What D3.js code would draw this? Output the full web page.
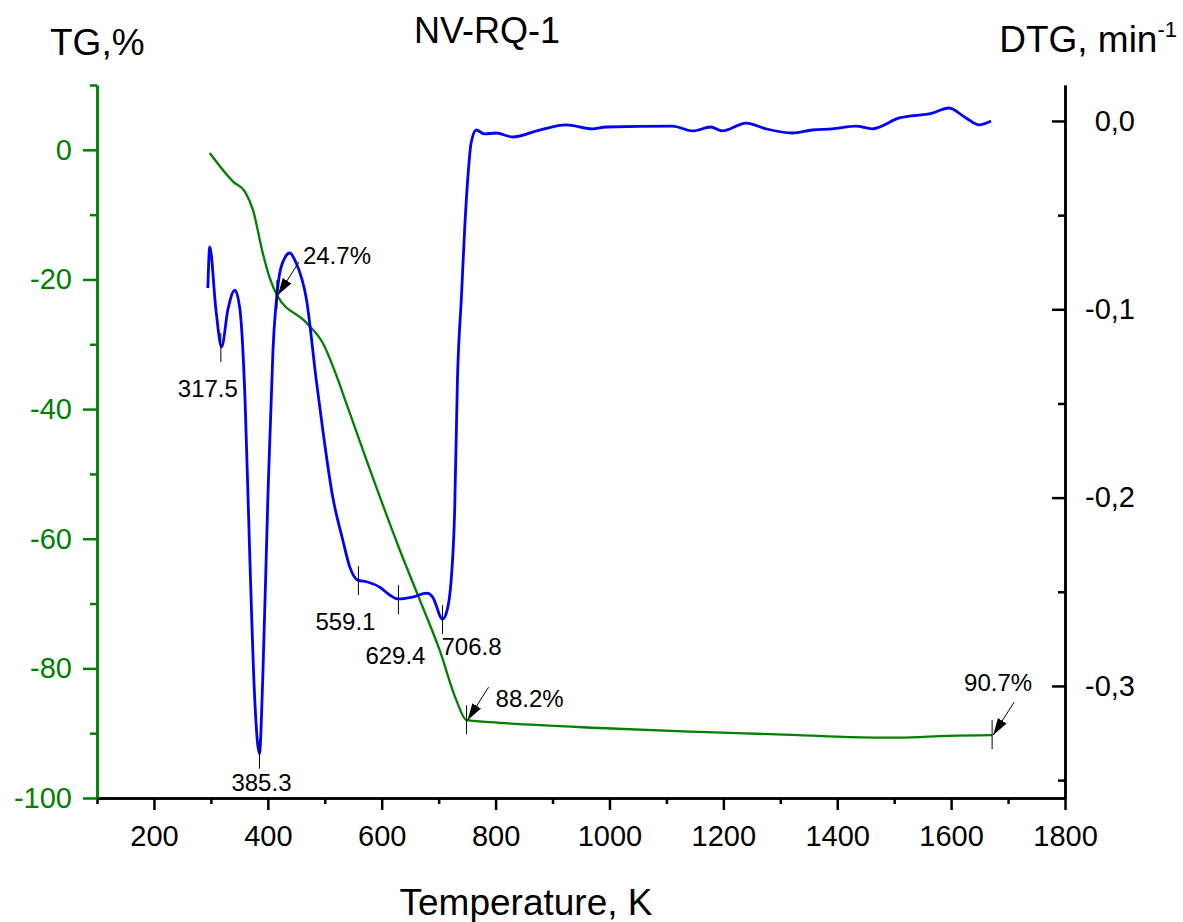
<!DOCTYPE html>
<html>
<head>
<meta charset="utf-8">
<script src="https://cdn.jsdelivr.net/npm/d3@7"></script>
<style>
  body { margin: 0; background: #fff; }
  text { font-family: "Liberation Sans", Arial, sans-serif; }
</style>
</head>
<body>
<div id="chart"></div>
<script>
// TG curve (mass, %)
const tgTemp = [298, 339, 360, 374, 391, 403.5, 416, 468, 496.5, 523.3, 535.8, 573, 631.6, 666.7, 701.8, 731, 749, 807, 982, 1158, 1333, 1421, 1509, 1596, 1672];
const tgValue = [-0.5, -4.9, -6.5, -9.3, -15.9, -19.8, -22.4, -26.7, -29.8, -35.5, -38.6, -47.8, -61.7, -69.4, -77.2, -84.9, -88.0, -88.4, -89.2, -89.8, -90.3, -90.6, -90.7, -90.4, -90.3];

// DTG curve (min^-1)
const dtgTemp = [294.7, 298, 308.8, 318.8, 330, 342, 351, 360, 368, 377, 385.3, 391, 400, 409, 419, 428, 438.6, 449, 468, 485, 496.5, 514, 531.6, 544, 558, 575, 596.5, 614, 628, 654, 679, 689.5, 706.8, 713.5, 722, 728, 733, 740, 745.6, 751, 757, 766, 780.7, 801, 830, 877, 924, 970, 994, 1110.5, 1146, 1178, 1198, 1240, 1275, 1321, 1356, 1391, 1433, 1461, 1509, 1567, 1596, 1626, 1649, 1670];
const dtgValue = [-0.0887, -0.0669, -0.100, -0.120, -0.100, -0.0898, -0.100, -0.148, -0.228, -0.307, -0.336, -0.297, -0.201, -0.122, -0.0844, -0.0738, -0.0701, -0.0749, -0.095, -0.1375, -0.164, -0.1997, -0.2225, -0.2369, -0.2438, -0.2448, -0.2475, -0.2517, -0.2538, -0.2528, -0.2507, -0.2528, -0.2645, -0.2613, -0.2438, -0.2082, -0.1375, -0.0935, -0.0579, -0.0313, -0.0117, -0.0048, -0.0069, -0.0064, -0.0085, -0.0048, -0.0021, -0.0042, -0.0032, -0.0027, -0.0053, -0.0032, -0.0053, -0.0011, -0.0042, -0.0064, -0.0048, -0.0042, -0.0027, -0.0042, 0.0016, 0.0042, 0.0069, 0.0016, -0.0021, 0.0];

// DTG peak marks
const peakTemp = [317.5, 385.3, 559.1, 629.4, 706.8];
const peakValue = [-0.120, -0.336, -0.2438, -0.2538, -0.2645];
const peakLabels = ["317.5", "385.3", "559.1", "629.4", "706.8"];

// TG mass loss marks
const lossTemp = [416, 749, 1672];
const lossValue = [-22.4, -88.0, -90.3];
const lossLabels = ["24.7%", "88.2%", "90.7%"];

// tick labels
const xTicks = [200, 400, 600, 800, 1000, 1200, 1400, 1600, 1800];
const tgTicks = [0, -20, -40, -60, -80, -100];
const dtgTicks = [0, -0.1, -0.2, -0.3];

const width = 1183, height = 922;
const margin = {left: 97, right: 1065, top: 85, bottom: 798};
const green = "#008000", blue = "#0000ff";

const svg = d3.select("#chart").append("svg")
    .attr("width", width)
    .attr("height", height);

svg.append("rect").attr("width", width).attr("height", height).attr("fill", "#fff");

const x = d3.scaleLinear().domain([100, 1800]).range([margin.left, margin.right]);
const yTG = d3.scaleLinear().domain([-100, 10]).range([margin.bottom, margin.top]);
const yDTG = d3.scaleLinear().domain([-0.3595, 0.0191]).range([margin.bottom, margin.top]);

svg.append("defs").append("marker")
    .attr("id", "arrow")
    .attr("viewBox", "0 0 10 10")
    .attr("refX", 10).attr("refY", 5)
    .attr("markerWidth", 17).attr("markerHeight", 17)
    .attr("markerUnits", "userSpaceOnUse")
    .attr("orient", "auto")
    .append("path")
    .attr("d", "M0,2 L10,5 L0,8 Z")
    .attr("fill", "#000");

// curves
const tgLine = d3.line()
    .x((d, i) => x(tgTemp[i]))
    .y(d => yTG(d))
    .curve(d3.curveMonotoneX);

const dtgLine = d3.line()
    .x((d, i) => x(dtgTemp[i]))
    .y(d => yDTG(d))
    .curve(d3.curveMonotoneX);

svg.append("path")
    .attr("d", tgLine(tgValue))
    .attr("fill", "none")
    .attr("stroke", green)
    .attr("stroke-width", 2.3);

svg.append("path")
    .attr("d", dtgLine(dtgValue))
    .attr("fill", "none")
    .attr("stroke", blue)
    .attr("stroke-width", 2.8);

// axes
function styleAxis(g, color) {
    g.selectAll(".domain").attr("stroke", color).attr("stroke-width", 2.5);
    g.selectAll(".tick line").attr("stroke", color).attr("stroke-width", 2.5);
    g.selectAll(".tick text")
        .attr("fill", color)
        .style("font-size", "29px")
        .style("font-family", '"Liberation Sans", Arial, sans-serif');
}

const xAxis = svg.append("g")
    .attr("transform", `translate(0,${margin.bottom})`)
    .call(d3.axisBottom(x).tickValues(xTicks).tickSize(12).tickSizeOuter(0).tickPadding(15).tickFormat(d => d));
styleAxis(xAxis, "#000");

const xMinor = svg.append("g")
    .attr("transform", `translate(0,${margin.bottom})`)
    .call(d3.axisBottom(x).tickValues(d3.range(100, 1800, 200)).tickSize(6).tickSizeOuter(0).tickFormat(""));
styleAxis(xMinor, "#000");

const leftAxis = svg.append("g")
    .attr("transform", `translate(${margin.left},0)`)
    .call(d3.axisLeft(yTG).tickValues(tgTicks).tickSize(14).tickSizeOuter(0).tickPadding(11).tickFormat(d => String(d)));
styleAxis(leftAxis, green);

const leftMinor = svg.append("g")
    .attr("transform", `translate(${margin.left},0)`)
    .call(d3.axisLeft(yTG).tickValues(d3.range(-90, 11, 20)).tickSize(7).tickSizeOuter(0).tickFormat(""));
styleAxis(leftMinor, green);

const rightAxis = svg.append("g")
    .attr("transform", `translate(${margin.right},0)`)
    .call(d3.axisRight(yDTG).tickValues(dtgTicks).tickSize(-13).tickSizeOuter(0).tickFormat(d => d.toFixed(1).replace(".", ",")));
styleAxis(rightAxis, "#000");
rightAxis.selectAll(".tick text").attr("x", 70).attr("text-anchor", "end");

const rightMinor = svg.append("g")
    .attr("transform", `translate(${margin.right},0)`)
    .call(d3.axisRight(yDTG).tickValues([-0.05, -0.15, -0.25, -0.35]).tickSize(-7).tickSizeOuter(0).tickFormat(""));
styleAxis(rightMinor, "#000");

// peak marks on DTG
const peakOffsets = [[-13, 50], [2, 37], [-13, 50], [-3, 65], [29, 36]];
peakTemp.forEach((t, i) => {
    const px = x(t), py = yDTG(peakValue[i]);
    svg.append("line")
        .attr("x1", px).attr("x2", px)
        .attr("y1", py - 14).attr("y2", py + 15)
        .attr("stroke", "#000").attr("stroke-width", 1);
    svg.append("text")
        .attr("x", px + peakOffsets[i][0])
        .attr("y", py + peakOffsets[i][1])
        .attr("text-anchor", "middle")
        .style("font-size", "24px")
        .text(peakLabels[i]);
});

// mass loss marks on TG
const lossOffsets = [[26, -31], [29, -13], [-28, -44]];
lossTemp.forEach((t, i) => {
    const px = x(t), py = yTG(lossValue[i]);
    svg.append("line")
        .attr("x1", px).attr("x2", px)
        .attr("y1", py - 15).attr("y2", py + 14)
        .attr("stroke", "#000").attr("stroke-width", 1);
    svg.append("line")
        .attr("x1", px + 22).attr("y1", py - 33)
        .attr("x2", px + 1).attr("y2", py)
        .attr("stroke", "#000").attr("stroke-width", 1)
        .attr("marker-end", "url(#arrow)");
    svg.append("text")
        .attr("x", px + lossOffsets[i][0])
        .attr("y", py + lossOffsets[i][1])
        .style("font-size", "24px")
        .text(lossLabels[i]);
});

// titles
svg.append("text")
    .attr("x", 487).attr("y", 43)
    .attr("text-anchor", "middle")
    .style("font-size", "36px")
    .text("NV-RQ-1");

svg.append("text")
    .attr("x", 50).attr("y", 55)
    .style("font-size", "37px")
    .text("TG,%");

const dtgTitle = svg.append("text")
    .attr("x", 1177).attr("y", 52)
    .attr("text-anchor", "end")
    .style("font-size", "37px");
dtgTitle.append("tspan").text("DTG, min");
dtgTitle.append("tspan").attr("dy", -15).style("font-size", "22px").text("-1");

svg.append("text")
    .attr("x", 526).attr("y", 915)
    .attr("text-anchor", "middle")
    .style("font-size", "37px")
    .text("Temperature, K");
</script>
</body>
</html>
